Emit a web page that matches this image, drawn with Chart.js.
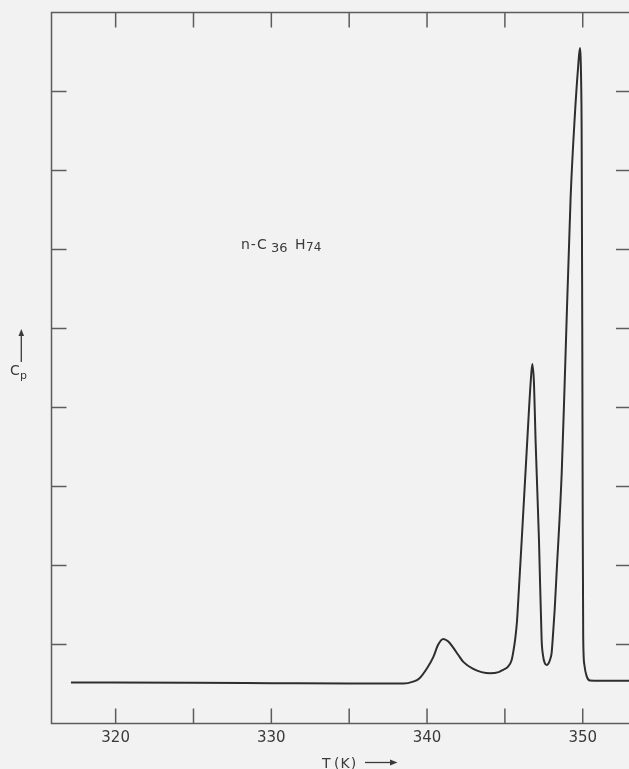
<!DOCTYPE html>
<html>
<head>
<meta charset="utf-8">
<script src="https://cdn.jsdelivr.net/npm/chart.js@4.4.1/dist/chart.umd.min.js"></script>
<style>
html, body { margin: 0; padding: 0; background: #f2f2f2; overflow: hidden; }
canvas { display: block; }
</style>
</head>
<body>
<canvas id="grafica" width="640" height="769"></canvas>
<script>
// T (K) y Cp (unidades arbitrarias en Cp)
const temperaturas = [317.13, 325, 330, 335, 338.5, 339.1, 339.5, 340.0, 340.4, 340.72, 341.04, 341.35, 341.68, 342.0, 342.33, 342.97, 343.5, 344.04, 344.6, 344.89, 345.2, 345.43, 345.55, 345.67, 345.78, 345.9, 346.08, 346.44, 346.65, 346.76, 346.87, 346.97, 347.19, 347.36, 347.45, 347.55, 347.68, 347.8, 347.92, 348.0, 348.1, 348.2, 348.32, 348.65, 348.86, 349.22, 349.5, 349.7, 349.82, 349.9, 349.93, 349.97, 350.0, 350.03, 350.1, 350.25, 350.46, 352.0, 353.2];
const cp = [0.52, 0.515, 0.51, 0.505, 0.505, 0.53, 0.57, 0.70, 0.84, 1.0, 1.07, 1.04, 0.96, 0.87, 0.78, 0.69, 0.65, 0.635, 0.65, 0.68, 0.72, 0.80, 0.92, 1.08, 1.3, 1.7, 2.32, 3.59, 4.3, 4.55, 4.3, 3.59, 2.32, 1.06, 0.86, 0.77, 0.74, 0.76, 0.82, 0.89, 1.15, 1.45, 1.9, 3.17, 4.44, 6.65, 7.72, 8.3, 8.55, 8.1, 7.5, 5.0, 2.5, 1.1, 0.75, 0.6, 0.545, 0.54, 0.54];
const etiquetasX = [320, 330, 340, 350];

const tinta = '#3a3a3a';

const marcas = {
  id: 'marcas',
  afterDraw(chart) {
    const { ctx, chartArea: a, scales: { x, y } } = chart;
    const linea = (x1, y1, x2, y2) => { ctx.beginPath(); ctx.moveTo(x1, y1); ctx.lineTo(x2, y2); ctx.stroke(); };
    ctx.save();
    ctx.strokeStyle = '#5c5c5c';
    ctx.lineWidth = 1.5;
    ctx.strokeRect(a.left, a.top, a.right - a.left, a.bottom - a.top);
    x.ticks.forEach(t => {
      const px = x.getPixelForValue(t.value);
      linea(px, a.bottom, px, a.bottom - 15);
      linea(px, a.top, px, a.top + 15);
    });
    y.ticks.forEach(t => {
      if (t.value <= 0 || t.value >= 9) return;
      const py = y.getPixelForValue(t.value);
      linea(a.left, py, a.left + 15, py);
      linea(a.right, py, a.right - 15, py);
    });

    ctx.fillStyle = tinta;
    ctx.strokeStyle = tinta;
    ctx.textBaseline = 'alphabetic';
    ctx.textAlign = 'left';

    // rotulo del compuesto
    ctx.font = '14px "DejaVu Sans"';
    ctx.letterSpacing = '1px';
    ctx.fillText('n-C', 241, 249);
    ctx.font = '13px "DejaVu Sans"';
    ctx.letterSpacing = '0px';
    ctx.fillText('36', 271, 252);
    ctx.font = '14px "DejaVu Sans"';
    ctx.fillText('H', 295, 249);
    ctx.font = '12px "DejaVu Sans"';
    ctx.fillText('74', 306, 251);

    // titulo eje y
    ctx.font = '14px "DejaVu Sans"';
    ctx.fillText('C', 10, 375);
    ctx.font = '11px "DejaVu Sans"';
    ctx.fillText('p', 20, 379);
    ctx.lineWidth = 1.3;
    linea(21.3, 362, 21.3, 334);
    ctx.beginPath(); ctx.moveTo(21.3, 329); ctx.lineTo(18.5, 336); ctx.lineTo(24.1, 336); ctx.closePath(); ctx.fill();

    // titulo eje x
    ctx.font = '14px "DejaVu Sans"';
    ctx.fillText('T', 322, 768);
    ctx.letterSpacing = '1px';
    ctx.fillText('(K)', 334, 768);
    ctx.letterSpacing = '0px';
    linea(365, 762.5, 391, 762.5);
    ctx.beginPath(); ctx.moveTo(397.5, 762.5); ctx.lineTo(390, 759.5); ctx.lineTo(390, 765.5); ctx.closePath(); ctx.fill();
    ctx.restore();
  }
};

new Chart(document.getElementById('grafica').getContext('2d'), {
  type: 'line',
  data: {
    datasets: [{
      data: temperaturas.map((t, i) => ({ x: t, y: cp[i] })),
      borderColor: '#2e2e2e',
      borderWidth: 2,
      pointRadius: 0,
      cubicInterpolationMode: 'monotone',
      fill: false
    }]
  },
  options: {
    responsive: false,
    animation: false,
    devicePixelRatio: 1,
    layout: { padding: { top: 12.5, right: 9, left: 0, bottom: 0 } },
    plugins: { legend: { display: false }, tooltip: { enabled: false } },
    scales: {
      x: {
        type: 'linear',
        min: 315.88,
        max: 353.1,
        grid: { display: false },
        border: { display: false },
        ticks: {
          stepSize: 5,
          includeBounds: false,
          autoSkip: false,
          maxRotation: 0,
          padding: -2,
          color: '#3a3a3a',
          font: { family: 'DejaVu Sans', size: 15 },
          callback: v => etiquetasX.includes(v) ? String(v) : ''
        },
        afterFit: s => { s.height = 45.5; }
      },
      y: {
        min: 0,
        max: 9,
        grid: { display: false },
        border: { display: false },
        ticks: { stepSize: 1, display: false },
        afterFit: s => { s.width = 51.5; }
      }
    }
  },
  plugins: [marcas]
});
</script>
</body>
</html>
